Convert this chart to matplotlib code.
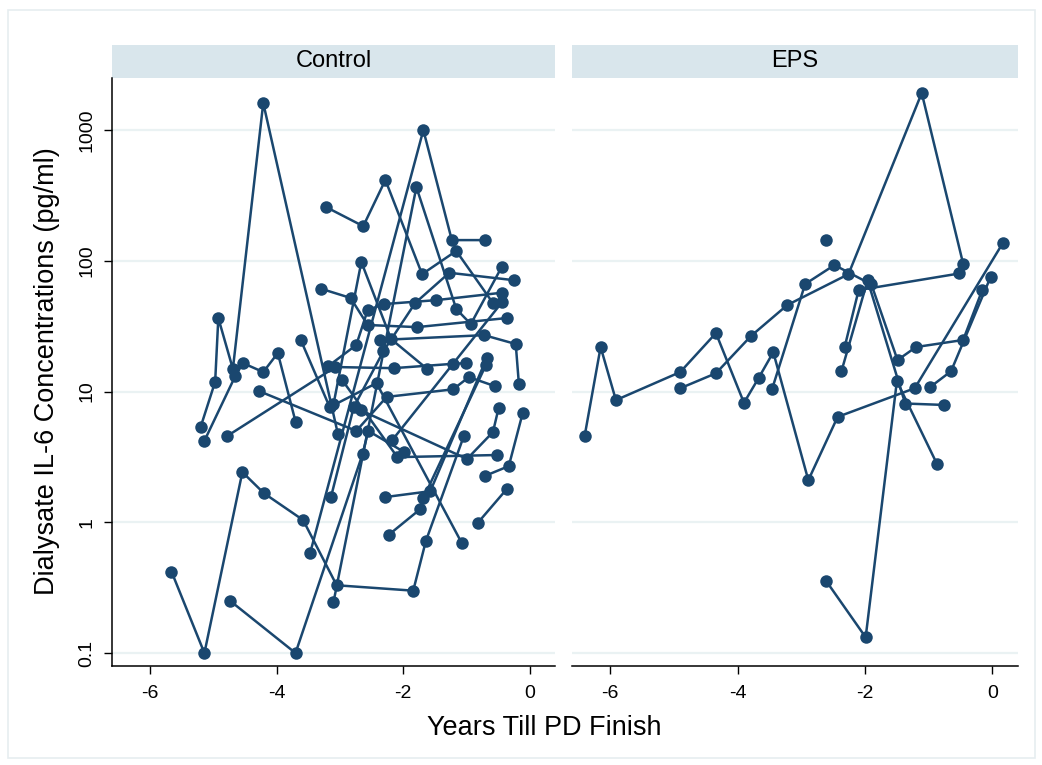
import matplotlib
matplotlib.use("Agg")
import matplotlib.pyplot as plt
from matplotlib.patches import Rectangle

plt.rcParams['font.family'] = ['Liberation Sans', 'DejaVu Sans']

# Years till PD finish and dialysate IL-6 (pg/ml), one inner list per patient
ctrl_years = [
    [-5.66, -5.14, -4.54, -4.20, -3.58, -3.05, -1.84, -1.64, -1.04],
    [-3.47, -1.68, -1.23, -0.71],
    [-3.10, -1.79, -1.16, -0.93, -0.44],
    [-3.22, -2.63, -2.28, -1.70, -1.16, -0.58],
    [-5.20, -4.97, -4.92, -4.69, -4.21, -3.03],
    [-5.14, -4.65, -4.53, -4.21, -3.98, -3.70],
    [-4.78, -3.07, -2.15, -1.21, -1.01],
    [-4.73, -3.70, -2.64, -2.55, -1.98],
    [-3.62, -3.16, -2.42, -1.07],
    [-3.29, -2.83, -2.56, -1.78, -0.36],
    [-3.10, -2.66, -2.19, -1.62],
    [-3.14, -2.78, -2.31, -1.81, -1.27, -0.24],
    [-3.18, -2.74, -2.56, -2.30, -1.48, -0.44],
    [-4.28, -2.74, -2.26, -1.21, -0.96, -0.55],
    [-2.67, -0.99, -0.58, -0.49],
    [-2.28, -1.57, -0.68],
    [-2.23, -1.73, -1.68, -0.69],
    [-0.82, -0.36],
    [-0.71, -0.33, -0.11],
    [-2.96, -2.09, -0.52],
    [-2.36, -0.72, -0.22, -0.17],
    [-2.17, -0.44],
]
ctrl_il6 = [
    [0.42, 0.10, 2.42, 1.67, 1.04, 0.33, 0.30, 0.72, 4.57],
    [0.58, 1000, 144, 144],
    [0.245, 366, 42.8, 32.8, 90],
    [258, 184, 415, 79, 119, 47.5],
    [5.35, 11.9, 36.5, 14.9, 1610, 4.73],
    [4.2, 13.2, 16.5, 14.1, 19.7, 5.9],
    [4.57, 15.4, 15.1, 16.3, 16.5],
    [0.25, 0.10, 3.33, 5.0, 3.44],
    [25, 7.6, 11.6, 0.69],
    [61, 52, 32.3, 31.1, 36.5],
    [8.0, 98, 25.2, 14.9],
    [1.56, 7.6, 20.4, 47.5, 81, 71],
    [15.7, 22.7, 42, 46.7, 50, 57],
    [10.1, 5.0, 9.1, 10.4, 12.9, 11.0],
    [7.2, 3.05, 4.9, 7.5],
    [1.56, 1.73, 18.0],
    [0.80, 1.26, 1.53, 16.0],
    [0.99, 1.80],
    [2.26, 2.69, 6.85],
    [12.2, 3.15, 3.27],
    [24.8, 27, 23.1, 11.4],
    [4.26, 48],
]

eps_years = [
    [-6.40, -6.15, -5.91, -4.90, -4.34, -3.90, -3.67, -3.44, -2.89, -2.43, -1.22, 0.16],
    [-4.90, -4.34, -3.79, -3.22, -2.26, -1.11, -0.46],
    [-3.46, -2.94, -2.48, -1.90, -1.49, -1.20, -0.46, -0.16],
    [-2.61, -1.99, -1.50, -0.87],
    [-2.37, -1.96, -1.37, -0.76],
    [-2.32, -2.10, -0.52],
    [-2.62],
    [-0.98, -0.65, -0.03],
]
eps_il6 = [
    [4.6, 21.9, 8.6, 14.1, 28.0, 8.2, 12.7, 20.0, 2.10, 6.4, 10.6, 136],
    [10.6, 13.8, 26.6, 45.9, 79, 1920, 95],
    [10.4, 66.4, 92.8, 66, 17.4, 21.9, 24.8, 59.7],
    [0.356, 0.132, 12.0, 2.79],
    [14.3, 71, 8.1, 7.9],
    [21.9, 59.7, 80],
    [144],
    [10.8, 14.3, 75],
]

groups = ['Control', 'EPS']
yticks = [0.1, 1, 10, 100, 1000]
ytick_labels = ['0.1', '1', '10', '100', '1000']
xticks = [-6, -4, -2, 0]

navy = '#1a476f'
grid_col = '#eaf2f3'
strip_col = '#d9e6ec'

fig = plt.figure(figsize=(10.42, 7.65), dpi=100)

# light frame around the whole graph region
fig.patches.append(Rectangle((0.008, 0.009), 0.985, 0.978, transform=fig.transFigure,
                             fill=False, edgecolor='#e6edf0', linewidth=1.2))

ax1 = fig.add_axes([0.1075, 0.1294, 0.4251, 0.7686])
ax2 = fig.add_axes([0.5489, 0.1294, 0.4280, 0.7686], sharey=ax1)

panels = [(ax1, ctrl_years, ctrl_il6), (ax2, eps_years, eps_il6)]
for ax, years, il6 in panels:
    ax.set_yscale('log')
    ax.set_ylim(0.0796, 2500)
    ax.set_xlim(-6.6, 0.4)
    for yv in yticks:
        ax.axhline(yv, color=grid_col, linewidth=1.6, zorder=0)
    for xs, ys in zip(years, il6):
        ax.plot(xs, ys, color=navy, linewidth=1.8, marker='o', markersize=9,
                markeredgewidth=0, zorder=3)
    ax.set_xticks(xticks)
    ax.set_xticklabels([str(t) for t in xticks])
    ax.tick_params(axis='x', direction='out', length=6, width=1, labelsize=14, pad=8)
    ax.minorticks_off()
    for side in ['top', 'right']:
        ax.spines[side].set_visible(False)
    ax.spines['bottom'].set_linewidth(1.1)
    ax.spines['left'].set_linewidth(1.1)

ax1.set_yticks(yticks)
ax1.set_yticklabels(ytick_labels, rotation=90, va='center')
ax1.tick_params(axis='y', direction='out', length=6, width=1, labelsize=14, pad=6)
ax1.minorticks_off()
ax2.spines['left'].set_visible(False)
ax2.tick_params(axis='y', left=False, labelleft=False)
ax2.minorticks_off()

# panel title strips
for ax, name in zip([ax1, ax2], groups):
    ax.add_patch(Rectangle((0, 1.0), 1, 0.057, transform=ax.transAxes,
                           facecolor=strip_col, edgecolor='none', clip_on=False))
    ax.text(0.5, 1.0285, name, transform=ax.transAxes, ha='center', va='center',
            fontsize=17)

fig.text(0.045, 0.515, 'Dialysate IL-6 Concentrations (pg/ml)', rotation=90,
         ha='center', va='center', fontsize=19.5)
fig.text(0.522, 0.048, 'Years Till PD Finish', ha='center', va='center', fontsize=19.5)

fig.savefig('out.png', dpi=100, facecolor='white')
